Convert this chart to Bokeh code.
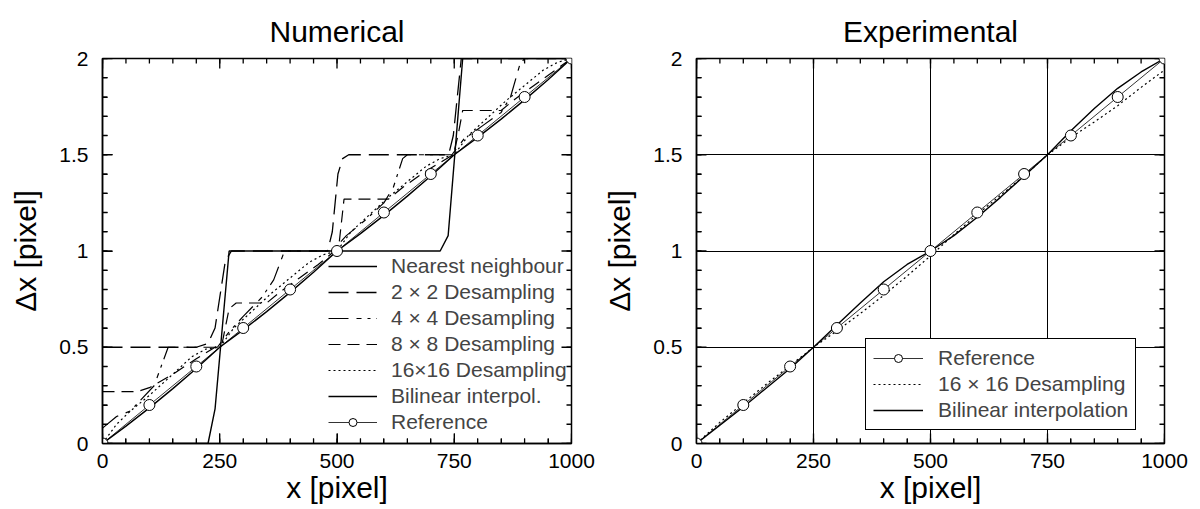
from bokeh.plotting import figure
from bokeh.models import Range1d, FixedTicker, Legend, LegendItem
from bokeh.layouts import row
from bokeh.embed import file_html
from bokeh.resources import INLINE

# ---------------- data ----------------
ref_x = [0, 100, 200, 300, 400, 500, 600, 700, 800, 900, 1000]
ref_y = [0.0, 0.2, 0.4, 0.6, 0.8, 1.0, 1.2, 1.4, 1.6, 1.8, 2.0]

# Numerical panel
nn_x = [0, 225, 240, 270, 720, 737, 768, 1000]
nn_y = [0.0, 0.0, 0.18, 1.0, 1.0, 1.08, 2.0, 2.0]

d2_x = [0, 200, 225, 240, 262, 275, 480, 490, 502, 512, 525, 738, 748, 765, 1000]
d2_y = [0.5, 0.5, 0.52, 0.6, 0.95, 1.0, 1.0, 1.1, 1.4, 1.48, 1.5, 1.5, 1.6, 2.0, 2.0]

d4_x = [0, 30, 60, 110, 125, 140, 245, 270, 300, 340, 365, 385, 395, 490, 520, 560, 600,
        620, 640, 650, 745, 770, 810, 850, 870, 890, 900, 1000]
d4_y = [0.08, 0.14, 0.17, 0.3, 0.4, 0.5, 0.5, 0.58, 0.66, 0.76, 0.85, 0.98, 1.0, 1.0, 1.08,
        1.16, 1.25, 1.33, 1.48, 1.5, 1.5, 1.58, 1.65, 1.72, 1.8, 1.97, 2.0, 2.0]

d8_x = [0, 75, 100, 150, 200, 240, 255, 270, 285, 350, 380, 420, 460, 495, 505, 515, 610,
        640, 680, 720, 748, 758, 768, 850, 880, 920, 960, 1000]
d8_y = [0.27, 0.27, 0.29, 0.36, 0.44, 0.5, 0.52, 0.7, 0.73, 0.73, 0.79, 0.86, 0.93, 1.0,
        1.05, 1.27, 1.27, 1.33, 1.4, 1.46, 1.5, 1.6, 1.73, 1.73, 1.79, 1.86, 1.93, 2.0]

d16_x = [0, 30, 60, 100, 150, 190, 220, 250, 280, 320, 360, 400, 440, 470, 500, 530, 570,
         610, 650, 690, 720, 750, 780, 820, 860, 900, 940, 970, 1000]
d16_y = [0.0, 0.1, 0.17, 0.25, 0.36, 0.45, 0.49, 0.5, 0.6, 0.69, 0.78, 0.86, 0.94, 0.98,
         1.0, 1.1, 1.19, 1.28, 1.36, 1.44, 1.48, 1.5, 1.6, 1.69, 1.78, 1.86, 1.94, 1.98, 2.0]

bil_x = [0, 50, 100, 150, 200, 250, 300, 350, 400, 450, 500, 550, 600, 650, 700, 750, 800,
         850, 900, 950, 1000]
bil_y = [0.0, 0.09, 0.185, 0.285, 0.39, 0.5, 0.59, 0.685, 0.785, 0.89, 1.0, 1.09, 1.185,
         1.285, 1.39, 1.5, 1.59, 1.685, 1.785, 1.89, 2.0]

# Experimental panel
e16_x = [0, 50, 100, 150, 200, 250, 300, 350, 400, 450, 500, 550, 600, 650, 700, 750, 800,
         850, 900, 950, 1000]
e16_y = [0.0, 0.11, 0.21, 0.31, 0.405, 0.5, 0.585, 0.675, 0.77, 0.87, 0.975, 1.085, 1.19,
         1.29, 1.39, 1.5, 1.59, 1.67, 1.755, 1.85, 1.94]

ebil_x = [0, 50, 100, 150, 200, 250, 300, 350, 400, 450, 500, 550, 600, 650, 700, 750, 800,
          850, 900, 950, 1000]
ebil_y = [0.0, 0.095, 0.19, 0.29, 0.39, 0.5, 0.615, 0.73, 0.84, 0.93, 1.0, 1.08, 1.175,
          1.28, 1.39, 1.5, 1.625, 1.74, 1.845, 1.93, 2.0]

x_ticks = [0, 250, 500, 750, 1000]
x_tick_labels = ["0", "250", "500", "750", "1000"]
x_minor = [0, 50, 100, 150, 200, 250, 300, 350, 400, 450, 500, 550, 600, 650, 700, 750,
           800, 850, 900, 950, 1000]
y_ticks = [0, 0.5, 1, 1.5, 2]
y_tick_labels = ["0", "0.5", "1", "1.5", "2"]
y_minor = [0, 0.1, 0.2, 0.3, 0.4, 0.5, 0.6, 0.7, 0.8, 0.9, 1.0, 1.1, 1.2, 1.3, 1.4, 1.5,
           1.6, 1.7, 1.8, 1.9, 2.0]

titles = ["Numerical", "Experimental"]

FONT = "Liberation Sans"
FH = 385                   # frame height in px
XMIN, XMAX, YMIN, YMAX = 0, 1000, 0, 2
MAJ, MIN = 10, 5           # inward tick lengths in px


def add_ticks(p, fw):
    """Inward ticks on all four sides: one short two-point line per tick position."""
    dx = (XMAX - XMIN) / fw
    dy = (YMAX - YMIN) / FH
    for ticks, L in ((x_ticks, MAJ), (x_minor, MIN)):
        for t in ticks:
            p.line([t, t], [YMIN, YMIN + L * dy], line_color="black", line_width=1.3)
            p.line([t, t], [YMAX, YMAX - L * dy], line_color="black", line_width=1.3)
    for ticks, L in ((y_ticks, MAJ), (y_minor, MIN)):
        for t in ticks:
            p.line([XMIN, XMIN + L * dx], [t, t], line_color="black", line_width=1.3)
            p.line([XMAX, XMAX - L * dx], [t, t], line_color="black", line_width=1.3)


def base_fig(title, fw, bl, br):
    p = figure(frame_width=fw, frame_height=FH,
               x_range=Range1d(XMIN, XMAX), y_range=Range1d(YMIN, YMAX),
               output_backend="svg", toolbar_location=None,
               min_border_left=bl, min_border_right=br, min_border_top=58,
               min_border_bottom=66, x_axis_label="x [pixel]", y_axis_label="Δx [pixel]")
    p.title.text = title
    p.title.align = "center"
    p.title.text_font = FONT
    p.title.text_font_size = "30px"
    p.title.text_font_style = "normal"
    p.title.text_color = "black"
    p.title.standoff = 22
    p.outline_line_color = "black"
    p.outline_line_width = 1.5
    p.outline_line_alpha = 1.0
    p.background_fill_color = "white"
    p.border_fill_color = "white"
    xt = FixedTicker(ticks=x_ticks, minor_ticks=x_minor)
    yt = FixedTicker(ticks=y_ticks, minor_ticks=y_minor)
    for ax in p.xaxis:
        ax.ticker = xt
        ax.major_label_overrides = dict(zip(x_ticks, x_tick_labels))
    for ax in p.yaxis:
        ax.ticker = yt
        ax.major_label_overrides = dict(zip(y_ticks, y_tick_labels))
    for ax in p.axis:
        ax.major_tick_in = MAJ
        ax.major_tick_out = 0
        ax.minor_tick_in = MIN
        ax.minor_tick_out = 0
        ax.major_tick_line_color = "black"
        ax.minor_tick_line_color = "black"
        ax.axis_line_color = "black"
        ax.axis_line_width = 1.5
        ax.major_label_text_font = FONT
        ax.major_label_text_font_size = "21px"
        ax.major_label_text_color = "black"
        ax.axis_label_text_font = FONT
        ax.axis_label_text_font_size = "30px"
        ax.axis_label_text_font_style = "normal"
        ax.axis_label_text_color = "black"
    p.below[0].major_label_standoff = 10
    p.below[0].axis_label_standoff = 0
    p.left[0].major_label_standoff = 14
    p.left[0].axis_label_standoff = 14
    p.xgrid.ticker = xt
    p.ygrid.ticker = yt
    return p


# ---------------- Numerical ----------------
p1 = base_fig(titles[0], 469, 102, 29)
p1.xgrid.visible = False
p1.ygrid.visible = False

r_nn = p1.line(nn_x, nn_y, line_color="black", line_width=1.4)
r_d2 = p1.line(d2_x, d2_y, line_color="black", line_width=1.3, line_dash="20 8")
r_d4 = p1.line(d4_x, d4_y, line_color="black", line_width=1.2, line_dash="20 8 5 6 3 6")
r_d8 = p1.line(d8_x, d8_y, line_color="black", line_width=1.2, line_dash="12 7")
r_d16 = p1.line(d16_x, d16_y, line_color="black", line_width=1.2, line_dash="2 3")
r_bil = p1.line(bil_x, bil_y, line_color="black", line_width=1.4)
r_refl = p1.line(ref_x, ref_y, line_color="black", line_width=0.8)
add_ticks(p1, 469)
r_refc = p1.scatter(ref_x, ref_y, marker="circle", size=11, fill_color="white",
                    line_color="black", line_width=1)

leg1 = Legend(items=[
    LegendItem(label="Nearest neighbour", renderers=[r_nn]),
    LegendItem(label="2 × 2 Desampling", renderers=[r_d2]),
    LegendItem(label="4 × 4 Desampling", renderers=[r_d4]),
    LegendItem(label="8 × 8 Desampling", renderers=[r_d8]),
    LegendItem(label="16×16 Desampling", renderers=[r_d16]),
    LegendItem(label="Bilinear interpol.", renderers=[r_bil]),
    LegendItem(label="Reference", renderers=[r_refl, r_refc]),
], location=(226, 9))
leg1.border_line_alpha = 0
leg1.background_fill_alpha = 0
leg1.padding = 0
leg1.margin = 0
leg1.spacing = 2
leg1.glyph_width = 49
leg1.glyph_height = 20
leg1.label_standoff = 14
leg1.label_text_font = FONT
leg1.label_text_font_size = "21px"
leg1.label_height = 20
p1.add_layout(leg1)

# ---------------- Experimental ----------------
p2 = base_fig(titles[1], 468, 95, 37)
p2.xgrid.grid_line_color = "black"
p2.ygrid.grid_line_color = "black"
p2.xgrid.grid_line_width = 1
p2.ygrid.grid_line_width = 1
p2.xgrid.grid_line_alpha = 1
p2.ygrid.grid_line_alpha = 1

r_e16 = p2.line(e16_x, e16_y, line_color="black", line_width=1.2, line_dash="2 3")
r_ebil = p2.line(ebil_x, ebil_y, line_color="black", line_width=1.4)
r_erefl = p2.line(ref_x, ref_y, line_color="black", line_width=0.8)
add_ticks(p2, 468)
r_erefc = p2.scatter(ref_x, ref_y, marker="circle", size=11, fill_color="white",
                     line_color="black", line_width=1)

leg2 = Legend(items=[
    LegendItem(label="Reference", renderers=[r_erefl, r_erefc]),
    LegendItem(label="16 × 16 Desampling", renderers=[r_e16]),
    LegendItem(label="Bilinear interpolation", renderers=[r_ebil]),
], location=(169, 13))
leg2.border_line_color = "black"
leg2.border_line_width = 1
leg2.border_line_alpha = 1
leg2.background_fill_color = "white"
leg2.background_fill_alpha = 1
leg2.padding = 7
leg2.margin = 0
leg2.spacing = 2
leg2.glyph_width = 50
leg2.glyph_height = 20
leg2.label_standoff = 15
leg2.label_text_font = FONT
leg2.label_text_font_size = "21px"
leg2.label_height = 20
p2.add_layout(leg2)

layout = row(p1, p2)
open("out.html", "w").write(file_html(layout, INLINE))
